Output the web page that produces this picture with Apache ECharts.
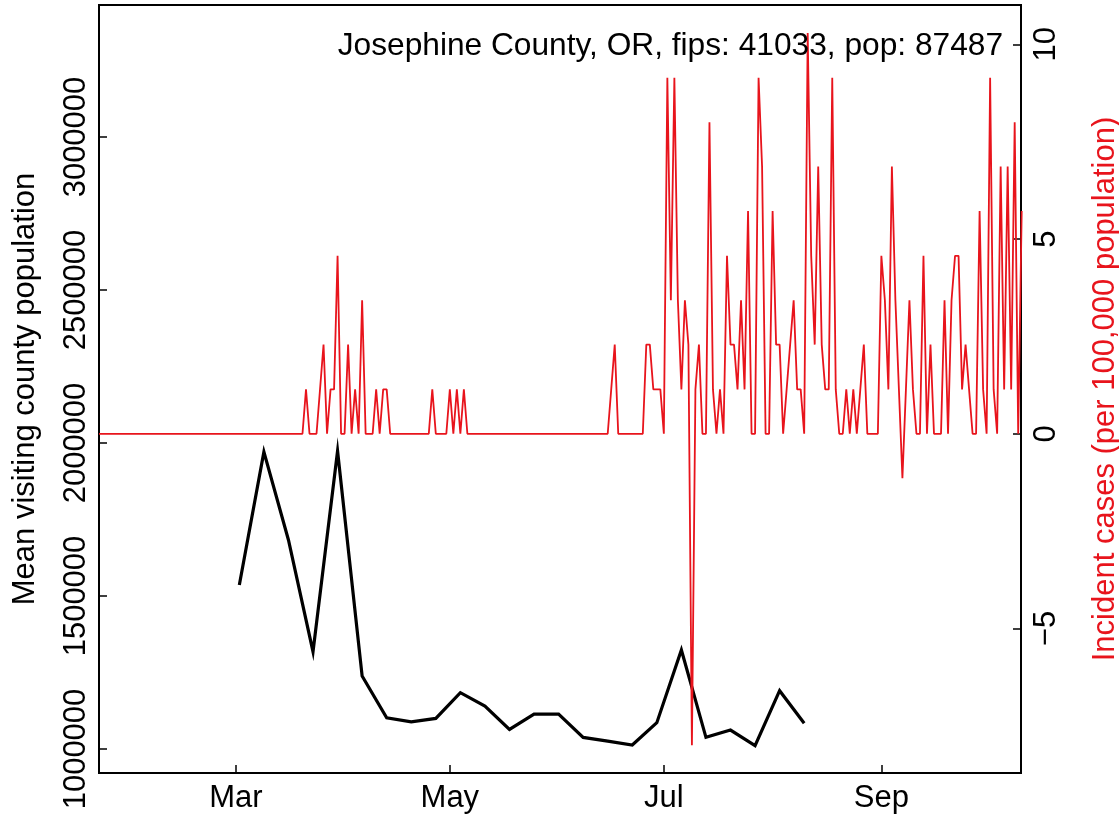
<!DOCTYPE html>
<html>
<head>
<meta charset="utf-8">
<script src="https://cdn.jsdelivr.net/npm/echarts@6/dist/echarts.min.js"></script>
<style>
html,body{margin:0;padding:0;background:#fff;}
#c{width:1119px;height:822px;}
</style>
</head>
<body>
<div id="c"></div>
<script>
// ---- data ----
const chartTitle = 'Josephine County, OR, fips: 41033, pop: 87487';
const leftAxisName = 'Mean visiting county population';
const rightAxisName = 'Incident cases (per 100,000 population)';

// weekly mean visiting county population (black line)
const weekStart = '2020-03-02';
const weeklyMobility = [1536000, 1971000, 1683000, 1318000, 1974000, 1238600, 1102000, 1089000,
  1100000, 1184000, 1140000, 1064000, 1114000, 1114000, 1038000, 1026000, 1013000, 1086000,
  1323500, 1038000, 1062000, 1011000, 1190500, 1084000];

// daily incident cases per 100,000 (red line), starting 2020-01-22
const caseStart = '2020-01-22';
const dailyCases = [
  0,0,0,0,0,0,0,0,0,0, 0,0,0,0,0,0,0,0,0,0, 0,0,0,0,0,0,0,0,0,0,
  0,0,0,0,0,0,0,0,0,0, 0,0,0,0,0,0,0,0,0,0, 0,0,0,0,0,0,0,0,0,
  1.14,0,0,0,1.14,2.29,0,1.14,1.14,4.57,
  0,0,2.29,0,1.14,0,3.43,0,0,0,
  1.14,0,1.14,1.14,0,0,0,0,0,0,
  0,0,0,0,0,0,1.14,0,0,0,
  0,1.14,0,1.14,0,1.14,
  0,0,0,0,0,0,0,0,0,0, 0,0,0,0,0,0,0,0,0,0, 0,0,0,0,0,0,0,0,0,0, 0,0,0,0,0,0,0,0,0,0, 0,
  1.14,2.29,0,0,0,0,0,0,0,0,
  2.29,2.29,1.14,1.14,1.14,0,9.14,3.43,9.14,3.43,
  1.14,3.43,2.29,-8.00,1.14,2.29,0,0,8.00,1.14,
  0,1.14,0,4.57,2.29,2.29,1.14,3.43,1.14,5.72,
  0,0,9.14,6.86,0,0,5.72,2.29,2.29,0,
  1.14,2.29,3.43,1.14,1.14,0,10.29,4.57,2.29,6.86,
  2.29,1.14,1.14,9.14,1.14,0,0,1.14,0,1.14,
  0,1.14,2.29,0,0,0,0,4.57,3.43,1.14,
  6.86,3.43,1.14,-1.14,1.14,3.43,1.14,0,0,4.57,
  0,2.29,0,0,0,3.43,0,3.43,4.57,4.57,
  1.14,2.29,1.14,0,0,5.72,1.14,0,9.14,1.14,
  0,6.86,1.14,6.86,1.14,8.00,0,5.72
];

const xTickDates = ['2020-03-01', '2020-05-01', '2020-07-01', '2020-09-01'];
const xTickLabels = ['Mar', 'May', 'Jul', 'Sep'];
const leftTicks = [1000000, 1500000, 2000000, 2500000, 3000000];
const rightTicks = [-5, 0, 5, 10];

// ---- helpers: x positions are days since caseStart ----
const DAY = 86400000;
function ts(s) { const p = s.split('-').map(Number); return Date.UTC(p[0], p[1] - 1, p[2]); }
const T0 = ts(caseStart);
function dayOf(s) { return Math.round((ts(s) - T0) / DAY); }
const weekD0 = dayOf(weekStart);
const redData = dailyCases.map((v, i) => [i, v]);
const blackData = weeklyMobility.map((v, i) => [weekD0 + i * 7, v]);
const xTickVals = xTickDates.map(dayOf);

const FONT = "'Liberation Sans', Arial, Helvetica, sans-serif";
const FS = 31;
const RED = '#E8141C';

const chart = echarts.init(document.getElementById('c'), null, { renderer: 'canvas' });
chart.setOption({
  animation: false,
  backgroundColor: '#fff',
  title: {
    text: chartTitle, right: 116, top: 30, padding: 0,
    textStyle: { fontFamily: FONT, fontSize: 31.7, fontWeight: 'normal', color: '#000' }
  },
  grid: { left: 99, right: 98, top: 5, bottom: 49, show: true, borderColor: '#000', borderWidth: 2,
    containLabel: false, outerBoundsMode: 'none' },
  xAxis: {
    type: 'value',
    min: 0,
    max: 262.8,
    axisLine: { show: true, onZero: false, lineStyle: { color: '#000', width: 2 } },
    axisTick: { show: true, inside: true, length: 8, customValues: xTickVals, lineStyle: { color: '#000', width: 1.5 } },
    axisLabel: {
      customValues: xTickVals,
      formatter: function (v) { const i = xTickVals.indexOf(v); return i >= 0 ? xTickLabels[i] : ''; },
      fontFamily: FONT, fontSize: FS, color: '#000', margin: 10
    },
    splitLine: { show: false }
  },
  yAxis: [
    {
      type: 'value', position: 'left', min: 921570, max: 3431400,
      axisLine: { show: true, onZero: false, lineStyle: { color: '#000', width: 2 } },
      axisTick: { show: true, inside: true, length: 8, customValues: leftTicks, lineStyle: { color: '#000', width: 1.5 } },
      axisLabel: { customValues: leftTicks, rotate: 90, fontFamily: FONT, fontSize: FS, color: '#000', margin: 7,
        formatter: function (v) { return String(v); } },
      splitLine: { show: false },
      name: leftAxisName, nameLocation: 'middle', nameRotate: 90, nameGap: 58,
      nameTextStyle: { fontFamily: FONT, fontSize: FS, color: '#000' }
    },
    {
      type: 'value', position: 'right', min: -8.71, max: 11.01,
      axisLine: { show: true, onZero: false, lineStyle: { color: '#000', width: 2 } },
      axisTick: { show: true, inside: true, length: 8, customValues: rightTicks, lineStyle: { color: '#000', width: 1.5 } },
      axisLabel: {
        customValues: rightTicks, rotate: 90, fontFamily: FONT, fontSize: FS, color: '#000', margin: 10,
        formatter: function (v) { return String(v).replace('-', '\u2212'); }
      },
      splitLine: { show: false },
      name: rightAxisName, nameLocation: 'middle', nameRotate: 90, nameGap: 69,
      nameTextStyle: { fontFamily: FONT, fontSize: FS, color: RED }
    }
  ],
  series: [
    {
      type: 'line', yAxisIndex: 0, data: blackData, showSymbol: false, z: 2,
      lineStyle: { color: '#000', width: 3.2, join: 'miter' }
    },
    {
      type: 'line', yAxisIndex: 1, data: redData, showSymbol: false, z: 3, clip: true,
      lineStyle: { color: RED, width: 1.8 }
    }
  ]
});
</script>
</body>
</html>
